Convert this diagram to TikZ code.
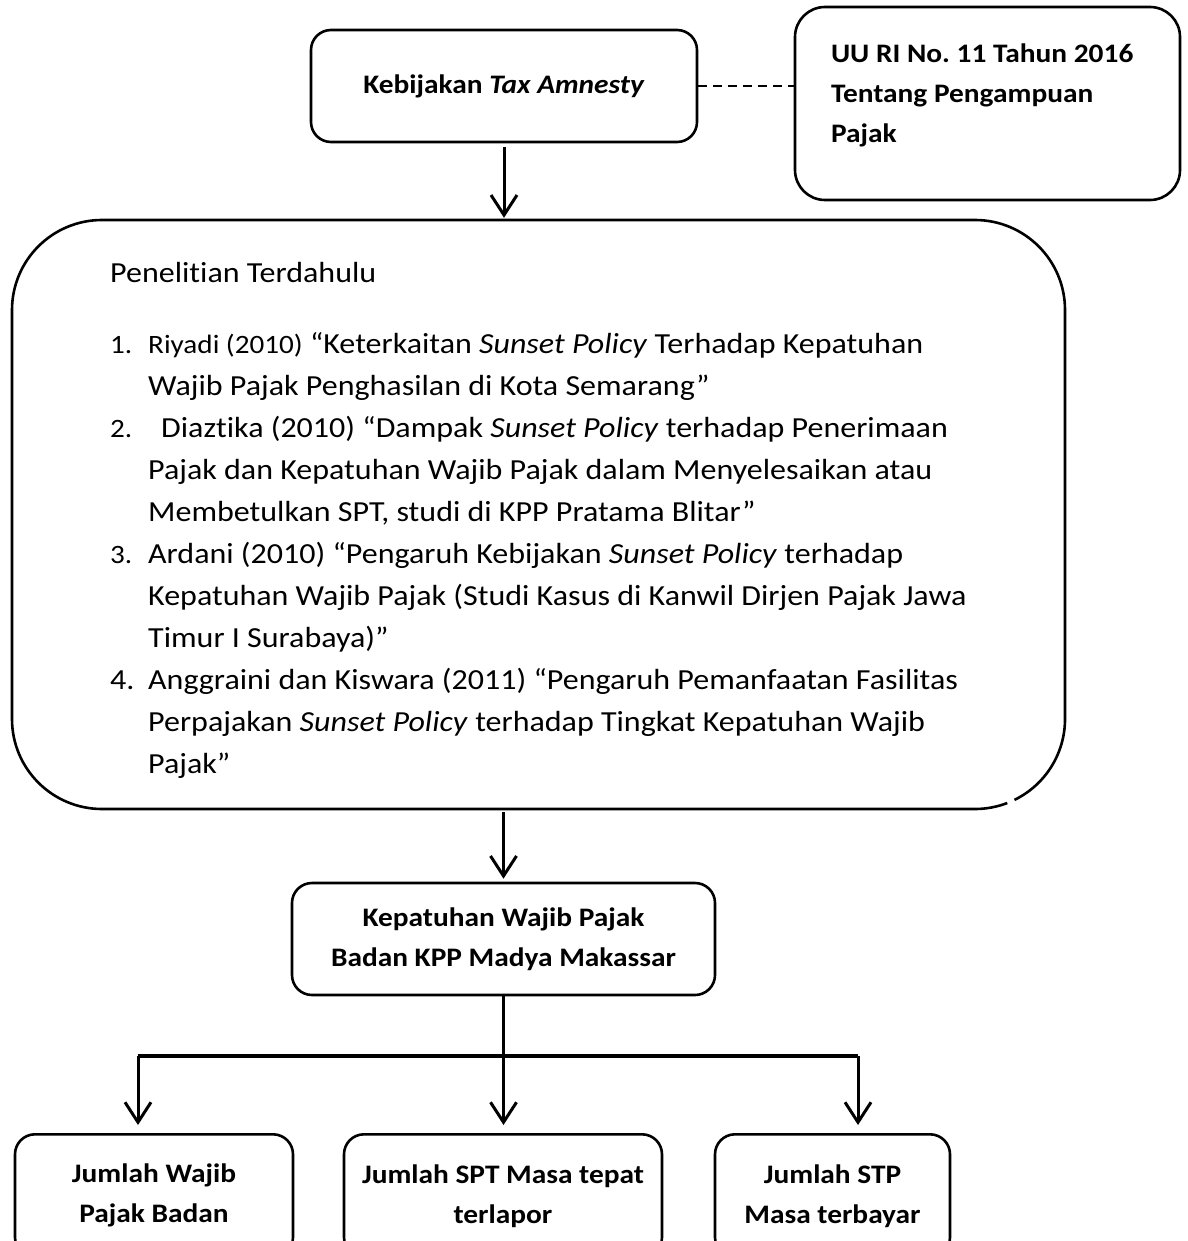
\documentclass[tikz,border=0pt]{standalone}
\usepackage{fontspec}
\setmainfont{Carlito}[FakeStretch=1.1, Ligatures=NoCommon]
\usetikzlibrary{arrows.meta,positioning}

\newcommand{\kecil}{\fontsize{26.5}{42}\selectfont}
\newcommand{\nomor}[1]{\makebox[38pt][l]{\kecil #1}}
\newcommand{\lanjut}{\hspace*{38pt}}

\tikzset{
    kotak/.style={draw, line width=2.6pt, rounded corners=20pt, align=center,
        font=\bfseries\fontsize{26.7}{40}\selectfont},
    teks/.style={anchor=base west, inner sep=0pt, font=\fontsize{29.1}{42}\selectfont},
    panah/.style={line width=3pt, -{Straight Barb[length=20pt,width=26pt,line width=3pt]}},
}

\begin{document}
\begin{tikzpicture}[x=1pt, y=-1pt]

    \useasboundingbox (0,0) rectangle (1187,1241);
    \clip (0,0) rectangle (1187,1241);

    % ==========================================
    % TOP ROW: policy and its legal basis
    % ==========================================
    \node[kotak, minimum width=386pt, minimum height=112pt] (kebijakan) at (504,86)
        {Kebijakan \textit{Tax Amnesty}};
    \node[kotak, rounded corners=30pt, minimum width=385pt, minimum height=193pt,
        text width=313pt, align=flush left, text depth=100pt] (uu) at (987.5,103.5)
        {UU RI No.\ 11 Tahun 2016\\Tentang Pengampuan\\Pajak};

    % dashed link to the law
    \draw[line width=2pt, dash pattern=on 9pt off 6pt] (kebijakan.east) -- (kebijakan.east -| uu.west);

    % ==========================================
    % BIG BOX: previous studies
    % ==========================================
    \node[minimum width=1053pt, minimum height=589pt] (riset) at (538.5,514.5) {};
    % outline drawn by hand (small break in the lower right corner)
    \draw[line width=2.6pt]
        (975,809) -- (102,809) arc[start angle=270, end angle=180, radius=90pt]
        -- (12,310) arc[start angle=180, end angle=90, radius=90pt]
        -- (975,220) arc[start angle=90, end angle=0, radius=90pt]
        -- (1065,719) arc[start angle=0, end angle=-64, radius=90pt]
        (975,809) arc[start angle=-90, end angle=-69, radius=90pt];

    \node[teks] (judul) at (110,282) {Penelitian Terdahulu};

    \foreach \isi [count=\i] in {
        {\nomor{1.}{\kecil Riyadi (2010)} “Keterkaitan \textit{Sunset Policy} Terhadap Kepatuhan},
        {\lanjut Wajib Pajak Penghasilan di Kota Semarang”},
        {\nomor{2.}\hspace*{13pt}Diaztika (2010) “Dampak \textit{Sunset Policy} terhadap Penerimaan},
        {\lanjut Pajak dan Kepatuhan Wajib Pajak dalam Menyelesaikan atau},
        {\lanjut Membetulkan SPT, studi di KPP Pratama Blitar”},
        {\nomor{3.}Ardani (2010) “Pengaruh Kebijakan \textit{Sunset Policy} terhadap},
        {\lanjut Kepatuhan Wajib Pajak (Studi Kasus di Kanwil Dirjen Pajak Jawa},
        {\lanjut Timur I Surabaya)”},
        {\makebox[38pt][l]{4.}Anggraini dan Kiswara (2011) “Pengaruh Pemanfaatan Fasilitas},
        {\lanjut Perpajakan \textit{Sunset Policy} terhadap Tingkat Kepatuhan Wajib},
        {\lanjut Pajak”}}
        \node[teks] (baris\i) at (110,{311+42*\i}) {\isi};

    % ==========================================
    % RESULT AND ITS INDICATORS
    % ==========================================
    \node[kotak, minimum width=423pt, minimum height=112pt] (wp) at (503.5,939)
        {Kepatuhan Wajib Pajak\\Badan KPP Madya Makassar};

    \node[kotak, anchor=north, minimum width=278pt, minimum height=123pt] (jwp) at (154,1133)
        {Jumlah Wajib\\Pajak Badan};
    \node[kotak, anchor=north, minimum width=318pt, minimum height=123pt] (jspt) at (503,1133)
        {Jumlah SPT Masa tepat\\terlapor};
    \node[kotak, anchor=north, minimum width=235pt, minimum height=123pt] (jstp) at (832.5,1133)
        {Jumlah STP\\Masa terbayar};

    % arrows down the chart
    \draw[panah, shorten <=4pt, shorten >=2pt] (kebijakan.south) -- (kebijakan.south |- riset.north);
    \draw[panah, shorten <=3pt, shorten >=3pt] (wp.north |- riset.south) -- (wp.north);

    % branch to the three indicators
    \draw[line width=3pt] (wp.south) -- ++(0,61) coordinate (cabang);
    \coordinate (kiri) at (138,1056);
    \coordinate (kanan) at (858,1056);
    \draw[line width=4pt] (kiri) -- (kanan);
    \draw[panah, shorten >=8pt] (kiri) -- (kiri |- jwp.north);
    \draw[panah, shorten >=8pt] (cabang) -- (cabang |- jspt.north);
    \draw[panah, shorten >=8pt] (kanan) -- (kanan |- jstp.north);

\end{tikzpicture}
\end{document}
